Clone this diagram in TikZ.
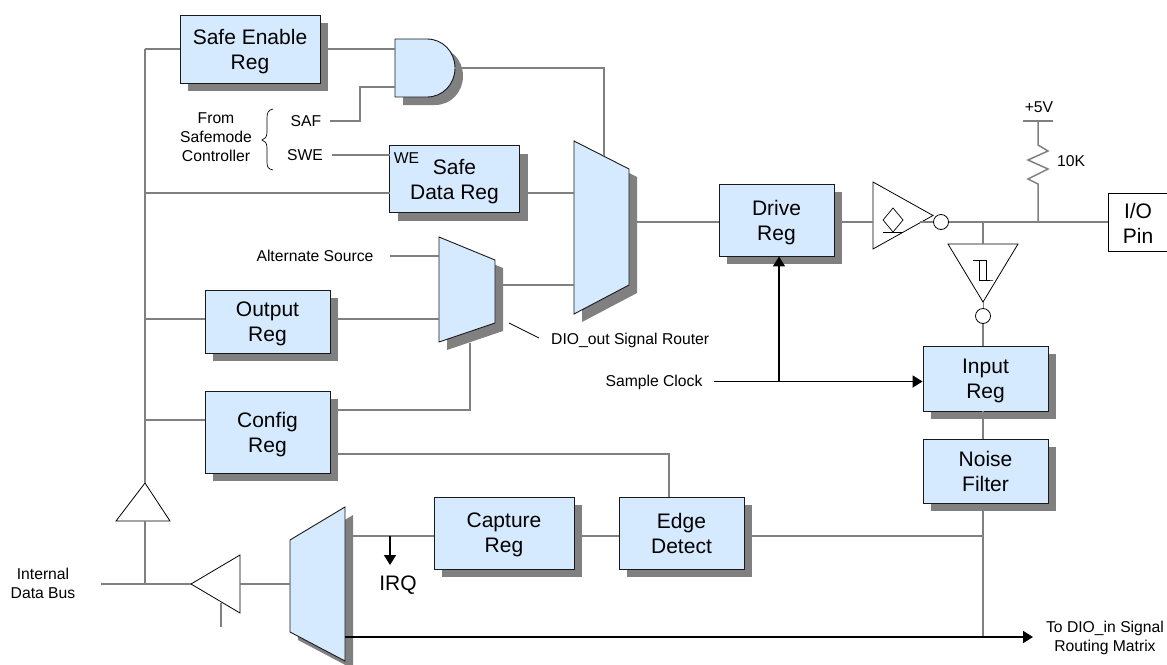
\documentclass[tikz,border=0pt]{standalone}
\usepackage{fontspec}
\setmainfont{Liberation Sans}
\usetikzlibrary{shadows,arrows.meta}
\definecolor{regfill}{HTML}{D5EAFE}
\definecolor{wiregray}{HTML}{808080}
\definecolor{edgedark}{HTML}{1A1A1A}
\tikzset{
  x=1pt,y=-1pt,
  shadowed/.style={general shadow={fill=wiregray,shadow xshift=8pt,shadow yshift=-8pt}},
  regbox/.style={draw=edgedark,line width=0.9pt,fill=regfill,shadowed,rectangle,inner sep=0pt,align=center,
    font=\fontsize{21}{25}\selectfont,text=black,text depth=-2pt},
  muxshape/.style={draw=edgedark,line width=0.9pt,fill=regfill,shadowed},
  gatesym/.style={draw=black,line width=0.8pt,fill=white,line join=miter},
  wire/.style={draw=wiregray,line width=1.5pt},
  sig/.style={draw=black,line width=1.8pt},
  sigarrow/.style={sig,-{Triangle[length=10pt,width=12pt]}},
  thinblack/.style={draw=black,line width=0.7pt},
  small/.style={inner sep=0pt,align=center,font=\fontsize{15.7}{19}\selectfont,text=black},
  big/.style={inner sep=0pt,align=center,font=\fontsize{21}{25}\selectfont,text=black},
  bubble/.style={circle,draw=black,line width=0.8pt,fill=white,minimum size=15pt,inner sep=0pt},
}
\begin{document}
\begin{tikzpicture}
\clip (0,0) rectangle (1167,664);
% named points of the polygon shapes
\coordinate (m1a) at (574,141); \coordinate (m1b) at (629,169);
\coordinate (m1c) at (629,285); \coordinate (m1d) at (574,314);
\coordinate (m2a) at (439,237); \coordinate (m2b) at (495,260);
\coordinate (m2c) at (495,323); \coordinate (m2d) at (439,342);
\coordinate (m3a) at (345,507); \coordinate (m3b) at (290,540);
\coordinate (m3c) at (290,632); \coordinate (m3d) at (345,661);
% registers
\node[regbox,minimum width=140pt,minimum height=68pt] (safeen) at (250,49) {Safe Enable\\Reg};
\node[regbox,minimum width=130pt,minimum height=67pt] (safedata) at (454.5,179) {Safe\\Data Reg};
\node[regbox,minimum width=125pt,minimum height=63pt] (outreg) at (267.5,321.5) {Output\\Reg};
\node[regbox,minimum width=125pt,minimum height=82pt] (cfgreg) at (267.5,432) {Config\\Reg};
\node[regbox,minimum width=115pt,minimum height=72pt] (drivereg) at (776.5,220) {Drive\\Reg};
\node[regbox,minimum width=125pt,minimum height=65pt] (inreg) at (985.5,378.5) {Input\\Reg};
\node[regbox,minimum width=125pt,minimum height=64pt] (noise) at (985.5,471) {Noise\\Filter};
\node[regbox,minimum width=140pt,minimum height=72pt] (capture) at (504,533) {Capture\\Reg};
\node[regbox,minimum width=125pt,minimum height=72pt] (edgedet) at (681.5,533) {Edge\\Detect};
% multiplexers
\draw[muxshape] (m1a)--(m1b)--(m1c)--(m1d)--cycle;
\draw[muxshape] (m2a)--(m2b)--(m2c)--(m2d)--cycle;
\draw[muxshape] (m3a)--(m3b)--(m3c)--(m3d)--cycle;
% AND gate
\coordinate (anda) at (395,39); \coordinate (andb) at (395,97); \coordinate (andout) at (455,68);
\draw[muxshape] (anda) -- (427,39) .. controls (443,39) and (455,52) .. (andout)
   .. controls (455,84) and (443,97) .. (427,97) -- (andb) -- cycle;
% junctions and free ends
\coordinate (bustop) at (145,49); \coordinate (bussd) at (145,193);
\coordinate (busout) at (145,319); \coordinate (buscfg) at (145,420);
\coordinate (busbot) at (145,483); \coordinate (bustri) at (145,521);
\coordinate (busjoin) at (145,584); \coordinate (busleft) at (101,584);
\coordinate (sdin) at (389.5,193); \coordinate (sdout) at (527.5,193); \coordinate (m1in1) at (574,193);
\coordinate (wein) at (389.5,155);
\coordinate (sein) at (395,49); \coordinate (and2) at (395,87);
\coordinate (m1top) at (604,156);
\coordinate (m2in1) at (439,256); \coordinate (m2in2) at (439,319);
\coordinate (m2out) at (503,285); \coordinate (m1in2) at (574,285);
\coordinate (m1out) at (637,222);
\coordinate (m2sel) at (470,343);
\coordinate (cfgq1) at (338,410); \coordinate (cfgq2) at (338,454);
\coordinate (etop) at (669,497);
\coordinate (m3out) at (353,536); \coordinate (irqj) at (390,536); \coordinate (irqend) at (390,565);
\coordinate (m3low) at (345,637); \coordinate (dioend) at (1033,637); \coordinate (noisej) at (983,637);
\coordinate (edgej) at (983,536);
\coordinate (m3in) at (290,584);
% buffers
\coordinate (btA) at (145,483); \coordinate (btB) at (116,521); \coordinate (btC) at (170,521);
\draw[gatesym] (btA)--(btB)--(btC)--cycle;
\coordinate (ltA) at (191,584); \coordinate (ltB) at (240,555); \coordinate (ltC) at (240,613);
\draw[gatesym] (ltA)--(ltB)--(ltC)--cycle;
\coordinate (ltstub) at (221,603); \coordinate (ltstubend) at (221,627);
\coordinate (ltout) at (240,584);
% output driver
\coordinate (drA) at (873,182); \coordinate (drB) at (933,215.5); \coordinate (drC) at (873,249);
\coordinate (drin) at (873,222); \coordinate (drexit) at (920,222);
\draw[gatesym] (drA)--(drB)--(drC)--cycle;
\draw[thinblack] (893,208)--(903,220)--(893,232)--(883,220)--cycle;
\draw[thinblack] (883,232)--(903,232);
% schmitt receiver
\coordinate (srA) at (948,244); \coordinate (srB) at (1018,244); \coordinate (srC) at (983,302);
\coordinate (srin) at (983,244); \coordinate (srj) at (983,222);
\draw[gatesym] (srA)--(srB)--(srC)--cycle;
\draw[thinblack] (973,260)--(986,260)--(986,280)--(993,280)--(979,280)--(979,260);
% pin
\node[big,text depth=-2pt] (pin) at (1138,223) {I/O\\Pin};
\coordinate (pinin) at (1108,222);
\draw[thinblack] (1167,193)--(1108,193)--(1108,251)--(1167,251);
% resistor
\coordinate (vbar) at (1038,121); \coordinate (rtop) at (1038,145); \coordinate (rbot) at (1038,184); \coordinate (rj) at (1038,222);
\draw[wire] (1023,121)--(1053,121);
\draw[wire] (vbar)--(rtop)--(1048,151)--(1028,160)--(1048,169)--(1028,179)--(rbot)--(rj);
% labels
\node[small] (plus5) at (1039,107) {+5V};
\node[small] (tenk) at (1071,161) {10K};
\node[small] (from) at (216,137) {From\\Safemode\\Controller};
\node[small] (saf) at (306,121) {SAF};
\node[small] (swe) at (305,155) {SWE};
\node[small] (we) at (406.5,158) {WE};
\node[small] (alt) at (315,256) {Alternate Source};
\node[small,anchor=west] (router) at (551,340) {DIO\_out Signal Router};
\node[small] (sclk) at (654,382) {Sample Clock};
\node[small] (ibus) at (43,583.5) {Internal\\Data Bus};
\node[small] (todio) at (1105,637.5) {To DIO\_in Signal\\Routing Matrix};
\node[big] (irq) at (398,585) {IRQ};
% brace
\draw[thinblack] (273,109) .. controls (268,110) and (267,113) .. (267,118) -- (267,132)
  .. controls (267,137) and (265,139) .. (262,140) .. controls (265,141) and (267,143) .. (267,148)
  -- (267,162) .. controls (267,167) and (268,169) .. (273,170);
% router leader
\coordinate (leadA) at (509,323); \coordinate (leadB) at (539,338);
\draw[thinblack] (leadA)--(leadB);
% grey wires
\draw[wire] (bustop)--(bussd)--(busout)--(buscfg)--(busbot);
\draw[wire] (bustop)--(safeen.west);
\draw[wire] (bussd)--(sdin);
\draw[wire] (busout)--(outreg.west |- busout);
\draw[wire] (buscfg)--(cfgreg.west |- buscfg);
\draw[wire] (bustri)--(busjoin);
\draw[wire] (busleft)--(busjoin)--(ltA);
\draw[wire] (ltout)--(m3in);
\draw[wire] (ltstub)--(ltstubend);
\draw[wire] (328,49)--(sein);
\draw[wire] (andout)--(604,68)--(m1top);
\draw[wire] (330,121)--(360,121)--(360,87)--(and2);
\draw[wire] (332,155)--(wein);
\draw[wire] (sdout)--(m1in1);
\draw[wire] (390,256)--(m2in1);
\draw[wire] (338,319)--(m2in2);
\draw[wire] (m2out)--(m1in2);
\draw[wire] (m1out)--(drivereg.west |- m1out);
\draw[wire] (842,222)--(drin);
\draw[wire] (drexit)--(933.5,222);
\draw[wire] (948.5,222)--(pinin);
\draw[wire] (srj)--(srin);
\draw[wire] (cfgq1)--(470,410)--(m2sel);
\draw[wire] (cfgq2)--(669,454)--(etop);
\draw[wire] (m3out)--(capture.west |- m3out);
\draw[wire] (582,536)--(619,536);
\draw[wire] (752,536)--(edgej);
\draw[wire] (983,323.5)--(inreg.north -| 983,0);
\draw[wire] (983,411)--(983,439);
\draw[wire] (983,511)--(noisej);
\node[bubble] (drbub) at (941,222) {};
\node[bubble] (srbub) at (983,316) {};
\draw[wire,line width=1pt] (srC)--(srbub.north);
% black signals
\draw[sig] (714,381.5)--(779,381.5);
\draw[sigarrow] (779,381.5)--(drivereg.south -| 779,0);
\draw[sigarrow] (779,381.5)--(inreg.west |- 0,381.5);
\draw[sigarrow,line width=1.5pt] (irqj)--(irqend);
\draw[sigarrow] (m3low)--(dioend);
\end{tikzpicture}
\end{document}
